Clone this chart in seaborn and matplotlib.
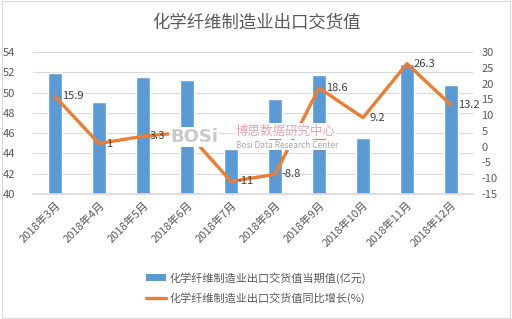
import matplotlib
matplotlib.use("Agg")
import matplotlib.pyplot as plt
from matplotlib.patches import Patch
from matplotlib.lines import Line2D
import seaborn as sns
import pandas as pd
import numpy as np

months = ["2018年3月", "2018年4月", "2018年5月", "2018年6月", "2018年7月",
          "2018年8月", "2018年9月", "2018年10月", "2018年11月", "2018年12月"]
values = [51.9, 49.1, 51.5, 51.2, 44.4, 49.4, 51.7, 45.5, 52.8, 50.7]
growth = [15.9, 1.0, 3.3, 4.6, -11.0, -8.8, 18.6, 9.2, 26.3, 13.2]
growth_labels = ["15.9", "1", "3.3", "4.6", "-11", "-8.8", "18.6", "9.2", "26.3", "13.2"]
left_ticks = [40, 42, 44, 46, 48, 50, 52, 54]
right_ticks = [-15, -10, -5, 0, 5, 10, 15, 20, 25, 30]

title = "化学纤维制造业出口交货值"
bar_name = "化学纤维制造业出口交货值当期值(亿元)"
line_name = "化学纤维制造业出口交货值同比增长(%)"

sns.set_theme(style="white")
plt.rcParams["font.family"] = ["Noto Sans CJK SC", "DejaVu Sans"]

df = pd.DataFrame({"month": months, "value": values, "growth": growth})

BLUE = "#5B9BD5"
ORANGE = "#ED7D31"
TXT = "#595959"

fig = plt.figure(figsize=(5.12, 3.19), dpi=100)
ax = fig.add_axes([33 / 512, 1 - 194 / 319, 440 / 512, 142 / 319])

sns.barplot(data=df, x="month", y="value", color=BLUE, width=0.32, ax=ax,
            saturation=1, zorder=2)
ax.set_ylim(40, 54)
ax.set_xlim(-0.5, 9.5)
ax.set_yticks(left_ticks)
ax.set_yticklabels([str(t) for t in left_ticks], fontsize=8, color=TXT)
ax.set_xticks(range(len(months)))
ax.set_xticklabels(months, rotation=45, ha="right", rotation_mode="anchor",
                   fontsize=8, color=TXT)
ax.tick_params(axis="x", length=0, pad=4)
for t in ax.get_yticklabels():
    t.set_ha("left")
ax.yaxis.set_tick_params(length=0, pad=22)
ax.grid(axis="y", color="#D9D9D9", linewidth=0.8, zorder=0)
ax.set_axisbelow(True)
ax.set_xlabel("")
ax.set_ylabel("")
for s in ["top", "left", "right"]:
    ax.spines[s].set_visible(False)
ax.spines["bottom"].set_color("#D9D9D9")

ax2 = ax.twinx()
xpos = np.arange(len(months))
sns.lineplot(x=xpos, y=growth, color=ORANGE, linewidth=2.4, ax=ax2,
             sort=False, zorder=3)
ax2.set_ylim(-15, 30)
ax2.set_yticks(right_ticks)
ax2.set_yticklabels([str(t) for t in right_ticks], fontsize=8, color=TXT)
ax2.tick_params(axis="y", length=0, pad=6)
ax2.set_ylabel("")
for s in ax2.spines.values():
    s.set_visible(False)
ax2.set_xlim(-0.5, 9.5)

for x, g, lab in zip(xpos, growth, growth_labels):
    ax2.annotate(lab, (x, g), xytext=(5, 0), textcoords="offset points",
                 ha="left", va="center", fontsize=8, color="#404040", zorder=4)

# watermark
fig.text(170 / 512, 1 - 137 / 319, "BOSi", fontsize=13, fontweight="bold",
         color="#C9C9C9", ha="left", va="center", zorder=10,
         family=["DejaVu Sans"],
         bbox=dict(facecolor="white", edgecolor="none", pad=1.0))
fig.text(236 / 512, 1 - 131 / 319, "博思数据研究中心", fontsize=9,
         color="#E3A3B0", ha="left", va="center", zorder=10,
         bbox=dict(facecolor="white", edgecolor="none", pad=1.0))
fig.text(236 / 512, 1 - 145 / 319, "Bosi Data Research Center", fontsize=6,
         color="#A8A8A8", ha="left", va="center", zorder=10,
         bbox=dict(facecolor="white", edgecolor="none", pad=0.5))

fig.text(0.5, 1 - 23 / 319, title, fontsize=12.5, color=TXT,
         ha="center", va="center")

handles = [Patch(facecolor=BLUE, edgecolor="none"),
           Line2D([0], [0], color=ORANGE, linewidth=2.4)]
fig.legend(handles, [bar_name, line_name], loc="center",
           bbox_to_anchor=(0.5, 1 - 288 / 319), ncol=1, frameon=False,
           fontsize=8, labelcolor=TXT, handlelength=1.8, handleheight=0.6,
           labelspacing=0.8, handletextpad=0.3)

border = plt.Rectangle((0.003, 0.003), 0.994, 0.994, transform=fig.transFigure,
                       fill=False, edgecolor="#D9D9D9", linewidth=0.8)
fig.patches.append(border)

fig.savefig("out.png", dpi=100)
